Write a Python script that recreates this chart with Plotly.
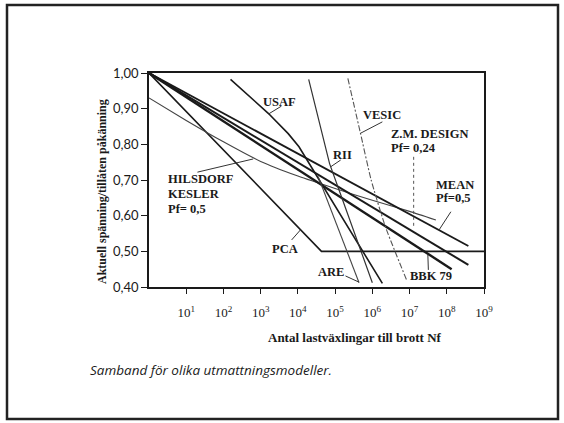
import plotly.graph_objects as go

# ---------------- data (N = load cycles to failure, S = stress ratio) ----------------
mean_N = [1, 3.8e8]
mean_S = [1.00, 0.515]

zm_N = [1, 3.8e8]
zm_S = [1.00, 0.462]

bbk_N = [1, 1.35e8]
bbk_S = [1.00, 0.45]

pca_N = [1, 4.3e4, 1e9]
pca_S = [1.00, 0.50, 0.50]

hk_N = [1, 10, 100, 1e3, 1e4, 1e5, 1e6, 1e7, 5.1e7]
hk_S = [0.93, 0.867, 0.807, 0.752, 0.711, 0.676, 0.643, 0.612, 0.588]

usaf_N = [155, 1.6e3, 5.5e3, 1.07e4, 1.86e6]
usaf_S = [0.982, 0.887, 0.830, 0.793, 0.41]

rii_N = [1.95e4, 4.0e4, 7.1e4, 2.0e5, 1.0e6]
rii_S = [0.982, 0.85, 0.746, 0.615, 0.412]

are_N = [3.5e4, 4.4e5]
are_S = [0.71, 0.412]

vesic_N = [2.2e5, 4.8e5, 9.3e5, 2.24e6, 8.3e6]
vesic_S = [0.985, 0.831, 0.70, 0.569, 0.42]

x_tickvals = [1e1, 1e2, 1e3, 1e4, 1e5, 1e6, 1e7, 1e8, 1e9]
x_ticktext = ["10<sup>1</sup>", "10<sup>2</sup>", "10<sup>3</sup>", "10<sup>4</sup>", "10<sup>5</sup>",
              "10<sup>6</sup>", "10<sup>7</sup>", "10<sup>8</sup>", "10<sup>9</sup>"]
y_tickvals = [0.4, 0.5, 0.6, 0.7, 0.8, 0.9, 1.0]
y_ticktext = ["0,40", "0,50", "0,60", "0,70", "0,80", "0,90", "1,00"]

# leader lines (label -> curve), in data units
leaders = {
    "USAF": ([1.62e3, 3.6e3], [0.885, 0.907]),
    "VESIC": ([1.86e6, 4.8e5], [0.863, 0.831]),
    "RII": ([1.41e5, 7.6e4], [0.756, 0.737]),
    "MEAN": ([1.29e8, 6.2e7], [0.611, 0.56]),
    "HK": ([20, 630], [0.722, 0.759]),
    "PCA": ([6.8e3, 1.17e4], [0.532, 0.56]),
    "ARE": ([1.9e5, 4.3e5], [0.431, 0.414]),
    "BBK": ([3.2e7, 3.1e7], [0.448, 0.49]),
}
zm_leader_N = [1.29e7, 1.29e7]
zm_leader_S = [0.765, 0.571]

# ---------------- figure ----------------
SERIF = "Liberation Serif"
INK = "#1a1a1a"
fig = go.Figure()

def add_line(x, y, width=1.3, color=INK, dash="solid", curved=False):
    fig.add_trace(go.Scatter(x=x, y=y, mode="lines", showlegend=False, hoverinfo="skip",
                             line=dict(color=color, width=width, dash=dash,
                                       shape="spline" if curved else "linear", smoothing=0.5)))

add_line(pca_N, pca_S, 1.6)
add_line(hk_N, hk_S, 1.1, "#444", curved=True)
add_line(mean_N, mean_S, 1.8)
add_line(zm_N, zm_S, 2.0)
add_line(bbk_N, bbk_S, 2.4)
add_line(usaf_N, usaf_S, 1.6)
add_line(rii_N, rii_S, 1.2, "#333")
add_line(are_N, are_S, 1.1, "#444")
add_line(vesic_N, vesic_S, 1.1, "#555", "6px,2px,2px,2px", curved=True)

for k, (lx, ly) in leaders.items():
    fig.add_trace(go.Scatter(x=lx, y=ly, mode="lines", showlegend=False, hoverinfo="skip",
                             line=dict(color="#333", width=1)))
fig.add_trace(go.Scatter(x=zm_leader_N, y=zm_leader_S, mode="lines", showlegend=False, hoverinfo="skip",
                         line=dict(color="#555", width=1, dash="dot")))

L, R, T, B = 149, 80, 73, 136
W, H = 564, 423
PW, PH = W - L - R, H - T - B

def px(x):
    return (x - L) / PW

def py(y):
    return (H - B - y) / PH

def label(text, x, y, xanchor="center", size=12.5, font=SERIF, bold=True, angle=0):
    t = f"<b>{text}</b>" if bold else text
    fig.add_annotation(text=t, x=px(x), y=py(y), xref="paper", yref="paper", showarrow=False,
                       xanchor=xanchor, yanchor="middle", textangle=angle,
                       font=dict(family=font, size=size, color=INK))

label("USAF", 279, 102)
label("VESIC", 382, 115)
label("Z.M. DESIGN", 389, 134, "left")
label("Pf= 0,24", 389, 148, "left")
label("RII", 342, 155)
label("MEAN", 434, 185, "left")
label("Pf=0,5", 434, 198, "left")
label("HILSDORF", 166, 179, "left")
label("KESLER", 166, 194, "left")
label("Pf= 0,5", 166, 209, "left")
label("PCA", 285, 249)
label("ARE", 331, 272)
label("BBK 79", 431, 276)

label("Antal lastväxlingar till brott Nf", 355, 337, size=13)
label("Aktuell spänning/tillåten påkänning", 102, 192, size=12, angle=-90)
label("<i>Samband för olika utmattningsmodeller.</i>", 88, 370, "left", size=13.5, font="Open Sans", bold=False)

# outer frame
fig.add_shape(type="rect", xref="paper", yref="paper",
              x0=px(7), x1=px(558), y0=py(419), y1=py(5),
              line=dict(color="#222", width=2.5), fillcolor="rgba(0,0,0,0)", layer="below")

fig.update_layout(
    width=W, height=H,
    margin=dict(l=L, r=R, t=T, b=B),
    paper_bgcolor="white", plot_bgcolor="white",
    xaxis=dict(type="log", range=[0, 9], tickvals=x_tickvals, ticktext=x_ticktext,
               showgrid=False, zeroline=False, showline=True, linecolor=INK, linewidth=1.6,
               mirror=True, ticks="outside", ticklen=5, tickwidth=1.2, tickcolor=INK,
               ticklabelstandoff=8, tickfont=dict(family=SERIF, size=13, color=INK)),
    yaxis=dict(range=[0.4, 1.0], tickvals=y_tickvals, ticktext=y_ticktext,
               showgrid=False, zeroline=False, showline=True, linecolor=INK, linewidth=1.6,
               mirror=True, ticks="outside", ticklen=6, tickwidth=1.2, tickcolor=INK,
               tickfont=dict(family="Lato", size=13, color=INK)),
)

fig.write_html("out.html", config={"displayModeBar": False},
               post_script="document.body.style.margin='0';document.body.style.overflow='hidden';")
